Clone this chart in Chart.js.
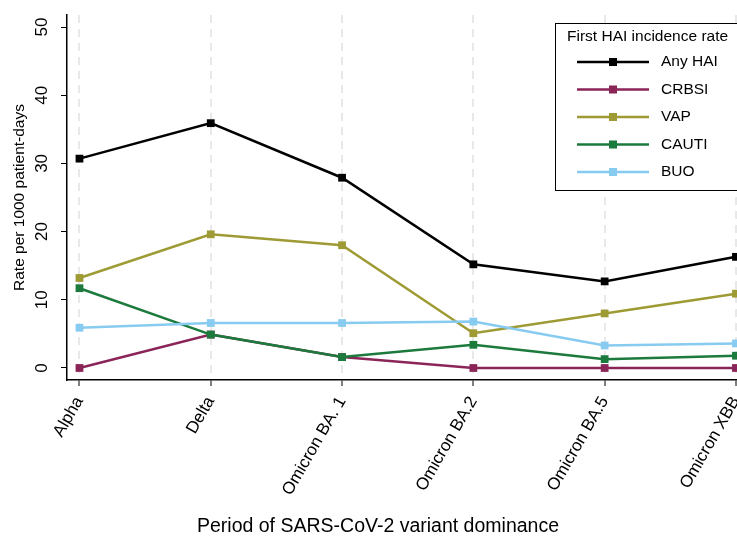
<!DOCTYPE html>
<html>
<head>
<meta charset="utf-8">
<script src="https://cdn.jsdelivr.net/npm/chart.js@4"></script>
<style>
  html, body { margin: 0; padding: 0; background: #fff; overflow: hidden; }
  #wrap { width: 737px; height: 543px; position: relative; }
</style>
</head>
<body>
<div id="wrap"><canvas id="chart" width="737" height="543"></canvas></div>
<script>
// variant periods (x axis)
const periods = ['Alpha', 'Delta', 'Omicron BA. 1', 'Omicron BA.2', 'Omicron BA.5', 'Omicron XBB'];
const yTicks = [0, 10, 20, 30, 40, 50];

// rates per 1000 patient-days
const anyHai = [30.7, 35.9, 27.9, 15.2, 12.7, 16.3];
const crbsi  = [0.0, 4.9, 1.6, 0.0, 0.0, 0.0];
const vap    = [13.2, 19.6, 18.0, 5.1, 8.0, 10.9];
const cauti  = [11.7, 4.9, 1.6, 3.4, 1.3, 1.8];
const buo    = [5.9, 6.6, 6.6, 6.8, 3.3, 3.6];

const seriesNames = ['Any HAI', 'CRBSI', 'VAP', 'CAUTI', 'BUO'];
const seriesColors = ['#000000', '#8b2558', '#9e9a34', '#1b7a3c', '#88cbf1'];
const seriesData = [anyHai, crbsi, vap, cauti, buo];

const FONT = '"Liberation Sans", Arial, sans-serif';

const datasets = seriesData.map((vals, i) => ({
  label: seriesNames[i],
  data: vals.map((v, k) => ({ x: k, y: v })),
  borderColor: seriesColors[i],
  backgroundColor: seriesColors[i],
  borderWidth: 2.5,
  pointStyle: 'rect',
  pointRadius: 5.5,
  pointBorderWidth: 0,
  tension: 0,
  clip: false,
  order: 10 - i
}));

// y tick labels are drawn vertical, legend box sits inside the plot
const extrasPlugin = {
  id: 'extras',
  afterDraw(chart) {
    const ctx = chart.ctx;
    const y = chart.scales.y;
    ctx.save();
    ctx.fillStyle = '#000';
    ctx.font = '17px ' + FONT;
    ctx.textAlign = 'center';
    ctx.textBaseline = 'middle';
    yTicks.forEach(t => {
      const py = y.getPixelForValue(t);
      ctx.save();
      ctx.translate(42, py);
      ctx.rotate(-Math.PI / 2);
      ctx.fillText(String(t), 0, 0);
      ctx.restore();
    });

    // x axis title
    ctx.font = '19.5px ' + FONT;
    ctx.fillText('Period of SARS-CoV-2 variant dominance', 378, 527);

    // legend
    const bx = 555, by = 23, bh = 167;
    ctx.fillStyle = '#fff';
    ctx.fillRect(bx, by, 200, bh);
    ctx.strokeStyle = '#000';
    ctx.lineWidth = 1;
    ctx.strokeRect(bx + 0.5, by + 0.5, 200, bh);
    ctx.fillStyle = '#000';
    ctx.textAlign = 'left';
    ctx.font = '15.5px ' + FONT;
    ctx.fillText('First HAI incidence rate', 567, 37);
    chart.data.datasets.forEach((ds, i) => {
      const ly = 62 + i * 27.5;
      ctx.strokeStyle = ds.borderColor;
      ctx.lineWidth = 2.5;
      ctx.beginPath();
      ctx.moveTo(577, ly);
      ctx.lineTo(649, ly);
      ctx.stroke();
      ctx.fillStyle = ds.borderColor;
      ctx.fillRect(609, ly - 4, 8, 8);
      ctx.fillStyle = '#000';
      ctx.fillText(ds.label, 661, ly);
    });
    ctx.restore();
  }
};

new Chart(document.getElementById('chart').getContext('2d'), {
  type: 'line',
  data: { datasets: datasets },
  plugins: [extrasPlugin],
  options: {
    responsive: false,
    animation: false,
    layout: { autoPadding: false, padding: { top: 15, right: 0, left: 0, bottom: 0 } },
    plugins: {
      legend: { display: false },
      tooltip: { enabled: false }
    },
    scales: {
      x: {
        type: 'linear',
        min: -0.095,
        max: 5.008,
        afterBuildTicks: s => { s.ticks = periods.map((p, i) => ({ value: i })); },
        afterFit: s => { s.height = 163; s.paddingRight = 0; s.paddingLeft = 0; },
        ticks: {
          autoSkip: false,
          minRotation: 60,
          maxRotation: 60,
          padding: 7,
          color: '#000',
          font: { size: 17, family: FONT },
          callback: v => periods[v]
        },
        grid: {
          color: '#e8e8e8',
          lineWidth: 2,
          tickColor: '#000',
          tickLength: 6,
          tickWidth: 1
        },
        border: { color: '#000', width: 1.5, dash: [8, 6] }
      },
      y: {
        min: -1.76,
        max: 51.76,
        afterBuildTicks: s => { s.ticks = yTicks.map(v => ({ value: v })); },
        afterFit: s => { s.width = 67; },
        ticks: { display: false },
        grid: {
          drawOnChartArea: false,
          tickColor: '#000',
          tickLength: 6,
          tickWidth: 1
        },
        border: { color: '#000', width: 1.5 },
        title: {
          display: true,
          text: 'Rate per 1000 patient-days',
          color: '#000',
          font: { size: 15.5, family: FONT },
          padding: { top: 10, bottom: 0 }
        }
      }
    }
  }
});
</script>
</body>
</html>
